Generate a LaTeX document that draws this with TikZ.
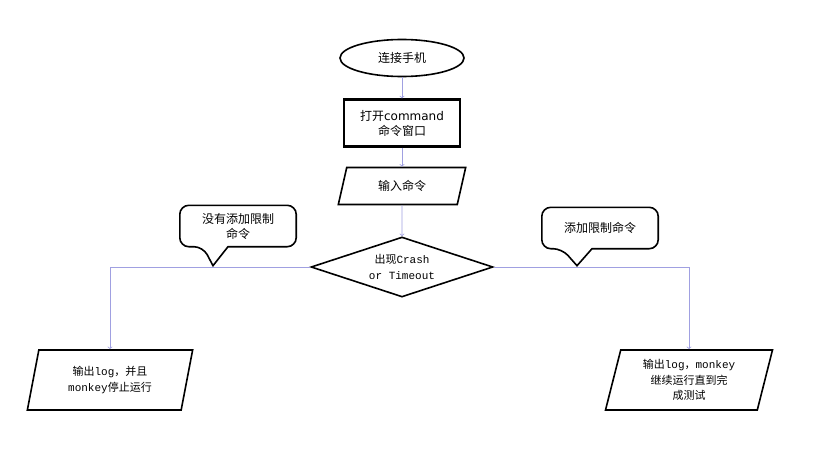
\documentclass[tikz,border=0pt]{standalone}
\usepackage{fontspec}
\setmainfont{Noto Sans CJK SC}
\newfontfamily\latinmono{Liberation Mono}
\newfontfamily\latinsans{DejaVu Sans}
\usepackage{tikz}
\usetikzlibrary{shapes.geometric}
\definecolor{linkblue}{RGB}{160,160,225}

\begin{document}
\begin{tikzpicture}[x=1pt,y=-1pt]

\tikzstyle{outline}=[draw, line width=1.6pt, align=center, inner sep=0pt, font=\fontsize{12}{15}\selectfont]
\tikzstyle{term}=[outline, ellipse, minimum width=124pt, minimum height=37pt]
\tikzstyle{proc}=[outline, rectangle, line width=2.2pt, minimum width=116pt, minimum height=47pt]
\tikzstyle{io}=[outline, trapezium, trapezium left angle=72, trapezium right angle=108, trapezium stretches=true, minimum width=128pt, minimum height=37pt]
\tikzstyle{outio}=[io, trapezium left angle=76, trapezium right angle=104, minimum width=167pt, minimum height=60pt, font=\fontsize{11}{15.5}\selectfont]
\tikzstyle{decision}=[outline, diamond, aspect=3, minimum width=182pt, minimum height=60pt, font=\fontsize{11}{15.5}\selectfont]
\tikzstyle{note}=[align=center, inner sep=0pt, minimum width=116pt, minimum height=41pt, font=\fontsize{12}{15}\selectfont]
\tikzstyle{noteline}=[line width=1.6pt, rounded corners=9pt]
\tikzstyle{link}=[draw=linkblue, line width=0.8pt]
\tikzstyle{arrow}=[link, ->]

\useasboundingbox (0,0) rectangle (814,450);

\node (start) [term] at (402,58) {连接手机};
\node (open) [proc] at (402,123) {打开{\latinsans command}\\命令窗口};
\node (input) [io] at (402,186) {输入命令};
\node (check) [decision] at (402,267) {出现{\latinmono Crash}\\{\latinmono or Timeout}};
\node (outL) [outio] at (110,380) {输出{\latinmono log}，并且\\{\latinmono monkey}停止运行};
\node (outR) [outio] at (689,380) {输出{\latinmono log}，{\latinmono monkey}\\继续运行直到完\\成测试};

\draw[arrow] (start) -- (open);
\draw[arrow] (open) -- (input);
\draw[arrow] (input) -- (check);
\draw[arrow] (check.west) -| (outL);
\draw[arrow] (check.east) -| (outR);

% speech bubbles
\node (noteL) [note] at (238,226) {没有添加限制\\命令};
\draw[noteline] ([xshift=-10pt]noteL.south) -- (noteL.south east) -- (noteL.north east) -- (noteL.north west) -- (noteL.south west) -- ([xshift=-35pt]noteL.south) [sharp corners] -- ([xshift=-25pt,yshift=-19pt]noteL.south) -- cycle;

\node (noteR) [note] at (600,228) {添加限制命令};
\draw[noteline] ([xshift=-8pt]noteR.south) -- (noteR.south east) -- (noteR.north east) -- (noteR.north west) -- (noteR.south west) -- ([xshift=-38pt]noteR.south) [sharp corners] -- ([xshift=-23pt,yshift=-17pt]noteR.south) -- cycle;
\end{tikzpicture}
\end{document}
